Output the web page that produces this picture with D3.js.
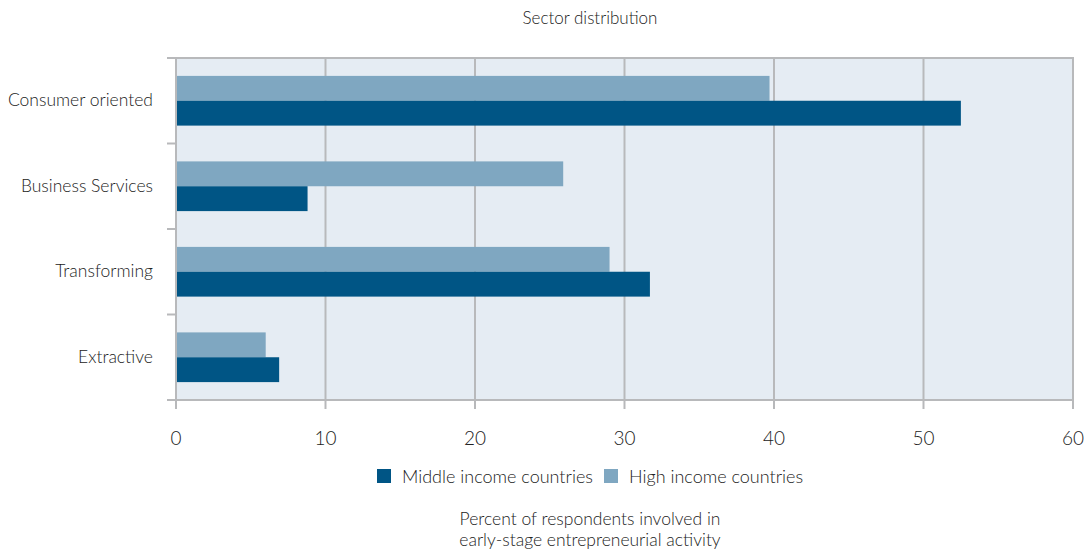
<!DOCTYPE html>
<html>
<head>
<meta charset="utf-8">
<script src="https://cdn.jsdelivr.net/npm/d3@7"></script>
<style>
  body { margin: 0; background: #fff; }
  text { font-family: Lato, "Open Sans", sans-serif; font-weight: 300; fill: #222; }
</style>
</head>
<body>
<svg id="chart" width="1088" height="552"></svg>
<script>
// Chart data
var categories = ['Consumer oriented', 'Business Services', 'Transforming', 'Extractive'];
var seriesNames = ['Middle income countries', 'High income countries'];
var middleIncome = [52.5, 8.8, 31.7, 6.9];
var highIncome = [39.7, 25.9, 29.0, 6.0];
var xTicks = [0, 10, 20, 30, 40, 50, 60];

var colors = { middle: '#005585', high: '#7fa7c1' };

var margin = { left: 176, right: 15, top: 58, bottom: 152 },
    width = 1088,
    height = 552;

var svg = d3.select('#chart');

var x = d3.scaleLinear()
    .domain([0, 60])
    .range([margin.left, width - margin.right]);

var y = d3.scaleBand()
    .domain(categories)
    .range([margin.top, height - margin.bottom]);

// inner band for the two bars, high income on top
var inner = d3.scaleBand()
    .domain(['high', 'middle'])
    .range([0, y.bandwidth()])
    .paddingOuter(0.72)
    .paddingInner(0);

// plot background
svg.append('rect')
    .attr('x', x(0))
    .attr('y', margin.top)
    .attr('width', x(60) - x(0))
    .attr('height', y.range()[1] - margin.top)
    .attr('fill', '#e5ecf3');

// vertical gridlines
svg.append('g')
    .selectAll('line')
    .data(xTicks.slice(1))
    .join('line')
    .attr('x1', function(d) { return x(d); })
    .attr('x2', function(d) { return x(d); })
    .attr('y1', margin.top)
    .attr('y2', y.range()[1])
    .attr('stroke', '#b8b9bb')
    .attr('stroke-width', 2);

// top border
svg.append('line')
    .attr('x1', x(0) - 9)
    .attr('x2', x(60) + 1)
    .attr('y1', margin.top)
    .attr('y2', margin.top)
    .attr('stroke', '#b8b9bb')
    .attr('stroke-width', 2);

// bars
var rows = categories.map(function(c, i) {
    return { cat: c, high: highIncome[i], middle: middleIncome[i] };
});

var groups = svg.append('g')
    .selectAll('g')
    .data(rows)
    .join('g')
    .attr('transform', function(d) { return 'translate(0,' + y(d.cat) + ')'; });

groups.append('rect')
    .attr('x', x(0))
    .attr('y', inner('high'))
    .attr('height', inner.bandwidth())
    .attr('width', function(d) { return x(d.high) - x(0); })
    .attr('fill', colors.high);

groups.append('rect')
    .attr('x', x(0))
    .attr('y', inner('middle'))
    .attr('height', inner.bandwidth())
    .attr('width', function(d) { return x(d.middle) - x(0); })
    .attr('fill', colors.middle);

// y axis: line plus ticks at category boundaries
var yAxis = svg.append('g');
yAxis.append('line')
    .attr('x1', x(0)).attr('x2', x(0))
    .attr('y1', margin.top).attr('y2', y.range()[1] + 9)
    .attr('stroke', '#b8b9bb').attr('stroke-width', 2);

var bounds = categories.map(function(c) { return y(c); }).concat([y.range()[1]]);
yAxis.selectAll('line.tick')
    .data(bounds.slice(1))
    .join('line')
    .attr('class', 'tick')
    .attr('x1', x(0) - 9).attr('x2', x(0))
    .attr('y1', function(d) { return d; })
    .attr('y2', function(d) { return d; })
    .attr('stroke', '#b8b9bb').attr('stroke-width', 2);

yAxis.selectAll('text')
    .data(categories)
    .join('text')
    .attr('x', 153)
    .attr('y', function(d) { return y(d) + y.bandwidth() / 2 + 1; })
    .attr('text-anchor', 'end')
    .attr('dominant-baseline', 'middle')
    .attr('font-size', 17.5)
    .text(function(d) { return d; });

// x axis
var xAxis = svg.append('g');
xAxis.append('line')
    .attr('x1', x(0) - 9).attr('x2', x(60) + 1)
    .attr('y1', y.range()[1]).attr('y2', y.range()[1])
    .attr('stroke', '#b8b9bb').attr('stroke-width', 2);

xAxis.selectAll('line.tick')
    .data(xTicks)
    .join('line')
    .attr('class', 'tick')
    .attr('x1', function(d) { return x(d); })
    .attr('x2', function(d) { return x(d); })
    .attr('y1', y.range()[1]).attr('y2', y.range()[1] + 9)
    .attr('stroke', '#b8b9bb').attr('stroke-width', 2);

xAxis.selectAll('text')
    .data(xTicks)
    .join('text')
    .attr('x', function(d) { return x(d); })
    .attr('y', 445)
    .attr('text-anchor', 'middle')
    .attr('font-size', 19)
    .text(function(d) { return d; });

// title
svg.append('text')
    .attr('x', 590).attr('y', 24)
    .attr('text-anchor', 'middle')
    .attr('font-size', 17)
    .text('Sector distribution');

// legend
var legendItems = [
    { name: seriesNames[0], color: colors.middle, x: 377 },
    { name: seriesNames[1], color: colors.high, x: 604 }
];
var legend = svg.append('g').selectAll('g')
    .data(legendItems)
    .join('g')
    .attr('transform', function(d) { return 'translate(' + d.x + ',469)'; });
legend.append('rect')
    .attr('width', 14).attr('height', 14)
    .attr('fill', function(d) { return d.color; });
legend.append('text')
    .attr('x', 25).attr('y', 14)
    .attr('font-size', 18)
    .text(function(d) { return d.name; });

// axis title
svg.append('text')
    .attr('x', 590).attr('y', 525)
    .attr('text-anchor', 'middle')
    .attr('font-size', 17.5)
    .text('Percent of respondents involved in');
svg.append('text')
    .attr('x', 590).attr('y', 546)
    .attr('text-anchor', 'middle')
    .attr('font-size', 17.5)
    .text('early-stage entrepreneurial activity');
</script>
</body>
</html>
